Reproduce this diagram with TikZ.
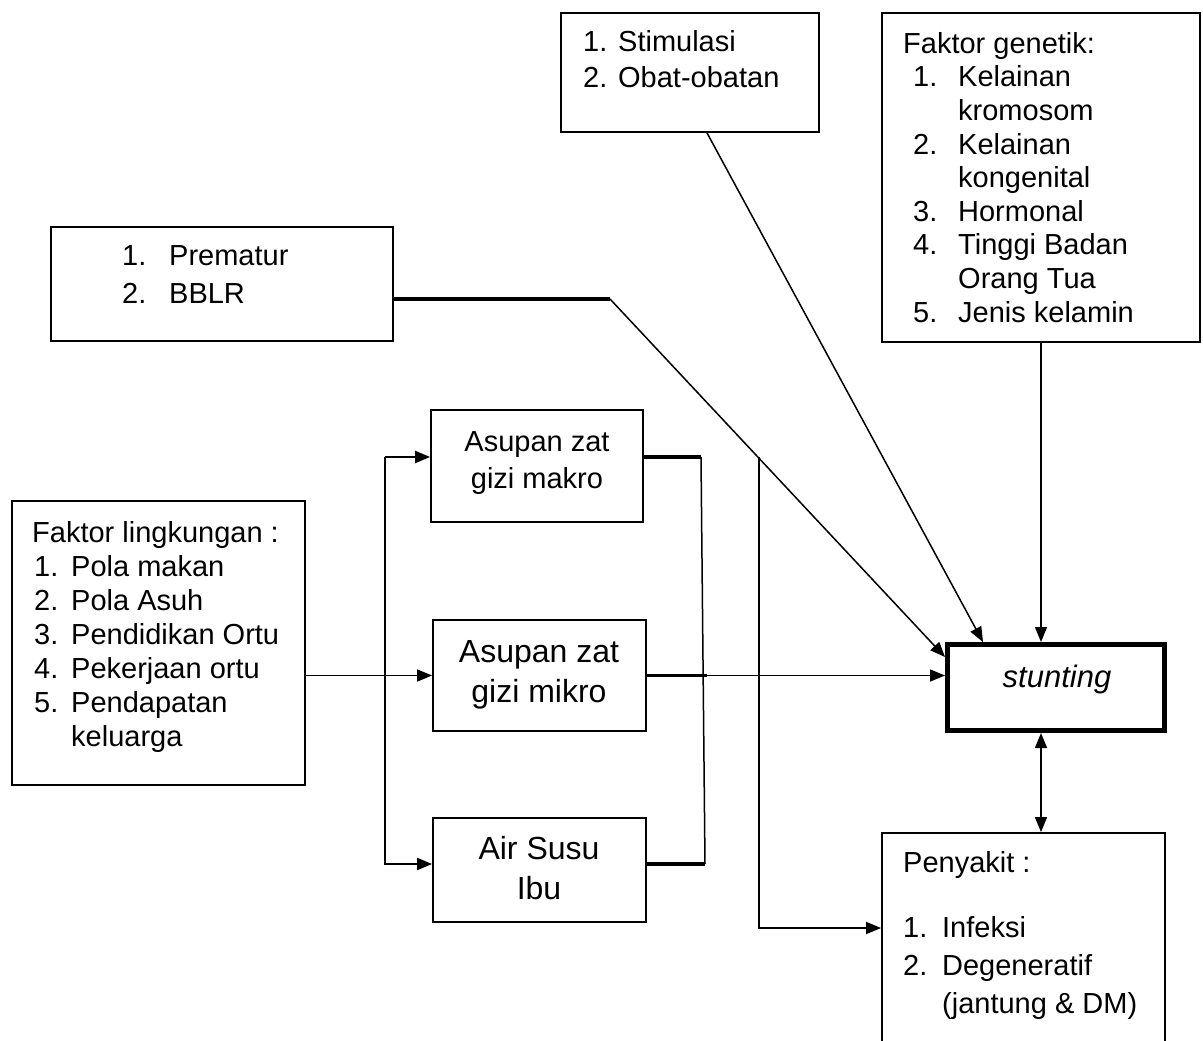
\documentclass[tikz,border=0pt]{standalone}
\usepackage{fontspec}
\setmainfont{Liberation Sans}
\usetikzlibrary{arrows.meta,calc,fit}

% fixed-width slot for a list number
\newcommand{\lnum}[2]{\makebox[#1][l]{#2}}

\begin{document}
\begin{tikzpicture}[x=1pt,y=-1pt,
  box/.style={draw, line width=1.8pt, inner sep=0pt},
  mainbox/.style={draw, line width=5pt, inner sep=0pt},
  txt/.style={anchor=base west, inner sep=0pt, align=left},
  ctxt/.style={anchor=base, inner sep=0pt, align=center},
  conn/.style={line width=1.5pt},
  medium/.style={line width=2.2pt},
  heavy/.style={line width=3.2pt},
  tip/.style={-{Triangle[length=15pt,width=12pt]}},
  tips/.style={{Triangle[length=15pt,width=12pt]}-{Triangle[length=15pt,width=12pt]}}]

\useasboundingbox (0,0) rectangle (1203,1041);
\fill[white] (0,0) rectangle (1203,1041);

% ---- boxes ----
\node[box, fit={(561,13) (819,132)}] (stim) {};
\node[box, fit={(882,13) (1200,342)}] (gen) {};
\node[box, fit={(51,227) (393,341)}] (prem) {};
\node[box, fit={(431,410) (643,522)}] (makro) {};
\node[box, fit={(12,501) (305,785)}] (lingk) {};
\node[box, fit={(433,620) (646,731)}] (mikro) {};
\node[box, fit={(433,818) (646,922)}] (asi) {};
\node[mainbox, fit={(947.5,644.5) (1164.5,730.5)}] (stunt) {};
\node[box, fit={(882,833) (1165,1070)}] (peny) {};

% ---- texts (anchored at the baseline of their last line) ----
\node[txt, font=\fontsize{29}{36}\selectfont] (stimtxt) at (583,88)
  {\lnum{35pt}{1.}Stimulasi\\ \lnum{35pt}{2.}Obat-obatan};
\node[txt, font=\fontsize{29}{33.6}\selectfont] (gentxt) at (903,322)
  {Faktor genetik:\\
   \hspace*{10pt}\lnum{45pt}{1.}Kelainan\\
   \hspace*{55pt}kromosom\\
   \hspace*{10pt}\lnum{45pt}{2.}Kelainan\\
   \hspace*{55pt}kongenital\\
   \hspace*{10pt}\lnum{45pt}{3.}Hormonal\\
   \hspace*{10pt}\lnum{45pt}{4.}Tinggi Badan\\
   \hspace*{55pt}Orang Tua\\
   \hspace*{10pt}\lnum{45pt}{5.}Jenis kelamin};
\node[txt, font=\fontsize{29}{38}\selectfont] (premtxt) at (122,303)
  {\lnum{47pt}{1.}Prematur\\ \lnum{47pt}{2.}BBLR};
\node[txt, font=\fontsize{29}{34}\selectfont] (lingktxt) at (32,746)
  {Faktor lingkungan :\\
   \hspace*{2pt}\lnum{37pt}{1.}Pola makan\\
   \hspace*{2pt}\lnum{37pt}{2.}Pola Asuh\\
   \hspace*{2pt}\lnum{37pt}{3.}Pendidikan Ortu\\
   \hspace*{2pt}\lnum{37pt}{4.}Pekerjaan ortu\\
   \hspace*{2pt}\lnum{37pt}{5.}Pendapatan\\
   \hspace*{39pt}keluarga};
\node[ctxt, font=\fontsize{29}{37}\selectfont] (makrotxt) at (537,488)
  {Asupan zat\\ gizi makro};
\node[ctxt, font=\fontsize{32}{40}\selectfont] (mikrotxt) at (539,702)
  {Asupan zat\\ gizi mikro};
\node[ctxt, font=\fontsize{32}{40}\selectfont] (asitxt) at (539,899)
  {Air Susu\\ Ibu};
\node[ctxt, font=\fontsize{31}{38}\itshape] (stunttxt) at (1057,687) {stunting};
\node[txt, font=\fontsize{29}{38}\selectfont] (penyhead) at (903,872) {Penyakit :};
\node[txt, font=\fontsize{29}{38}\selectfont] (penytxt) at (903,1013)
  {\lnum{39pt}{1.}Infeksi\\
   \lnum{39pt}{2.}Degeneratif\\
   \hspace*{39pt}(jantung \& DM)};

% ---- junction points ----
\coordinate (bt) at (385,457);
\coordinate (bb) at (385,864);
\coordinate (jt) at (701,457);
\coordinate (jb) at (705,864);
\coordinate (vt) at (759,457);
\coordinate (vb) at (759,928);
\coordinate (pk) at (610,299);

% ---- connectors ----
% environment factors into the three intake boxes
\draw[conn, tip] (lingk.east |- mikro.west) -- (mikro.west);
\draw[medium, tip] (bt) -- (makro.west |- bt);
\draw[medium, tip] (bt) -- (bb) -- (asi.west |- bb);

% intake boxes joined on the right
\draw[heavy] (makro.east |- jt) -- (jt);
\draw[heavy] (asi.east |- jb) -- (jb);
\draw[conn] (jt) -- (jb);
\draw[heavy] (mikro.east) -- ++(60,0);
\draw[conn, tip] (mikro.east) -- (mikro.east -| stunt.west);

% branch to disease box
\draw[conn, tip] (vt) -- (vb) -- (vb -| peny.west);

% birth factors
\draw[heavy] (prem.east |- pk) -- (pk);
\draw[conn, tip] (pk) -- ($(stunt.north west)+(0,15)$);

% stimulation / medication
\draw[conn, tip] ($(stim.south)+(17,0)$) -- ($(stunt.north west)+(38,0)$);

% genetic factors
\draw[conn, tip] (gen.south) -- (gen.south |- stunt.north);

% stunting <-> disease
\draw[conn, tips] (gen.south |- stunt.south) -- (gen.south |- peny.north);

\end{tikzpicture}
\end{document}
